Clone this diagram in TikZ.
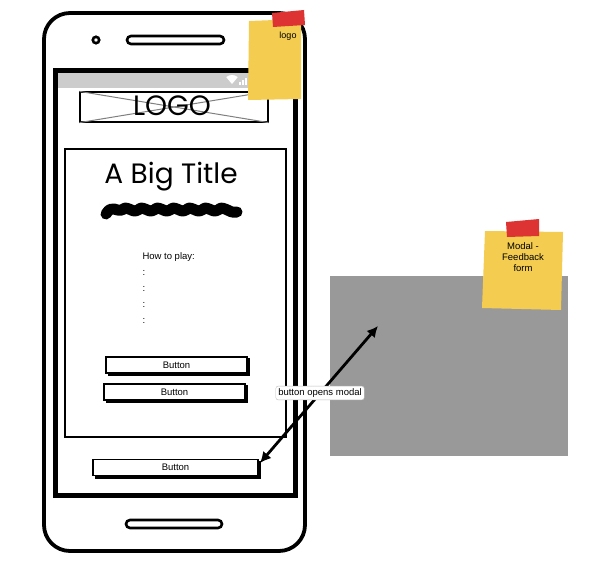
\documentclass[tikz,border=0pt]{standalone}
\usepackage{fontspec}
\setmainfont{Liberation Sans}
\newfontfamily\geofont{Poppins}
\usetikzlibrary{arrows.meta}
\definecolor{stickyyellow}{HTML}{F4CC50}
\definecolor{tapered}{HTML}{DD3333}
\definecolor{barGray}{HTML}{CCCCCC}
\definecolor{modalGray}{HTML}{999999}
\tikzset{
  x=1pt, y=-1pt,
  btn/.style={draw, line width=1.2pt, fill=white, minimum height=16pt, inner sep=0pt, font=\fontsize{9.5}{10}\selectfont},
  btnshadow/.style={line width=3pt},
  sticky/.style={fill=stickyyellow, draw=none},
  tape/.style={fill=tapered, draw=none},
  smalltext/.style={font=\fontsize{9.5}{11}\selectfont},
}
\begin{document}
\begin{tikzpicture}
\useasboundingbox (0,0) rectangle (594,567);
\fill[white] (0,0) rectangle (594,567);

% phone body
\draw[line width=3.8pt, rounded corners=26pt] (44,13) rectangle (305,551);
\draw[line width=2.6pt] (96,40) circle (3.2);
\draw[line width=2.6pt, rounded corners=4pt] (127,36) rectangle (224,44);
\draw[line width=2.6pt, rounded corners=4pt] (126,520) rectangle (222,528);

% screen
\draw[line width=5pt] (55,71) rectangle (295,495);
\fill[barGray] (57.5,73.5) rectangle (292.5,88);
% status icons: wifi fan and signal bars
\fill[white] (232,84) -- ++(50:-9) arc[start angle=230, end angle=310, radius=9] -- cycle;
\fill[white] (239,82) rectangle (240.5,85);
\fill[white] (242,80) rectangle (243.5,85);
\fill[white] (245,78) rectangle (246.5,85);

% logo placeholder
\node[draw, line width=1.2pt, minimum width=188pt, minimum height=30pt, inner sep=0pt] (logobox) at (174,107) {};
\draw[gray, line width=1pt] (logobox.north west) -- (logobox.south east);
\draw[gray, line width=1pt] (logobox.south west) -- (logobox.north east);
\node[font=\geofont\fontsize{28}{28}\selectfont] (logotext) at (172,106) {LOGO};

% content panel
\draw[line width=1.3pt] (65,149) rectangle (286,437);
\node[font=\geofont\fontsize{28}{28}\selectfont] (title) at (171,177) {A Big Title};
\draw[line width=11pt, line cap=round, line join=round]
  (106,214) .. controls (112,204) and (116,212) .. (122,210)
  .. controls (128,204) and (131,214) .. (138,210)
  .. controls (144,204) and (147,214) .. (154,210)
  .. controls (160,204) and (163,214) .. (170,210)
  .. controls (176,204) and (179,214) .. (186,210)
  .. controls (192,204) and (195,214) .. (202,210)
  .. controls (208,204) and (211,214) .. (218,210)
  .. controls (224,204) and (228,214) .. (237,212);

\node[smalltext, anchor=west] (howto) at (139,257) {How to play:};
\foreach \yy [count=\i] in {273,289,305,321}
  \node[smalltext, anchor=west] (colon\i) at (139,\yy) {:};

% buttons
\draw[btnshadow] (108,374) -- (248,374) -- (248,358);
\node[btn, minimum width=141pt] (button1) at (176.5,365) {Button};
\draw[btnshadow] (106,401) -- (246,401) -- (246,385);
\node[btn, minimum width=141pt] (button2) at (174.5,392) {Button};
\draw[btnshadow] (95,477) -- (259,477) -- (259,461);
\node[btn, minimum width=165pt] (button3) at (175.5,467.5) {Button};

% modal
\fill[modalGray] (330,276) rectangle (568,456);
\coordinate (modaltarget) at (378,326);
\coordinate (buttonedge) at (260,463);
\draw[line width=2.8pt, {Latex[length=11pt,width=11pt]}-{Latex[length=11pt,width=11pt]}] (buttonedge) -- (modaltarget);
\node[draw=gray!50, fill=white, rounded corners=2.5pt, inner sep=2.5pt, font=\fontsize{9.5}{10}\selectfont] (arrowlabel) at (320,393) {button opens modal};

% sticky notes
\fill[sticky] (249,21) -- (301,19) -- (301,99) -- (248,100) -- cycle;
\fill[tape] (272,13) -- (304,10) -- (305,25) -- (273,27) -- cycle;
\node[font=\fontsize{9}{10}\selectfont] (note1) at (288,36) {logo};

\fill[sticky] (485,231) -- (563,232) -- (561,310) -- (482,308) -- cycle;
\fill[tape] (506,222) -- (539,219) -- (539,236) -- (507,237) -- cycle;
\node[align=center, font=\fontsize{9.5}{11}\selectfont] (note2) at (523,257) {Modal -\\Feedback\\form};
\end{tikzpicture}
\end{document}
